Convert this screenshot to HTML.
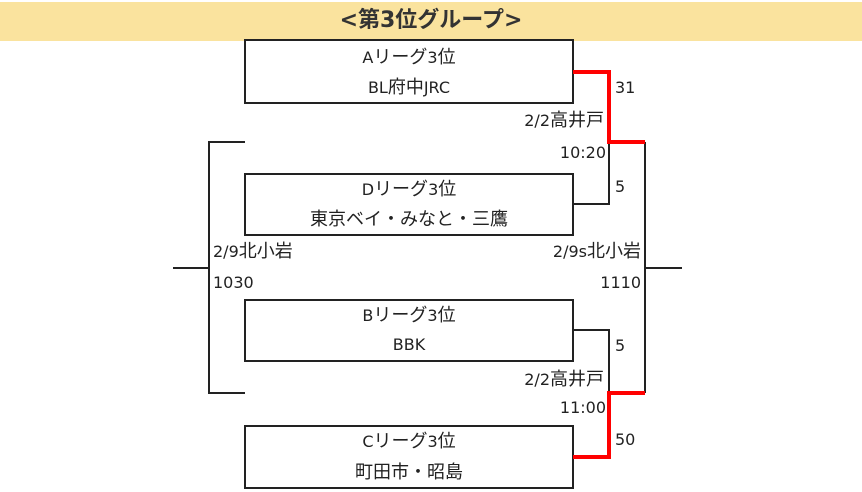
<!DOCTYPE html>
<html><head><meta charset="utf-8"><style>
body{margin:0;width:862px;height:492px;background:#fff;position:relative;overflow:hidden;font-family:"DejaVu Sans","Noto Sans CJK JP",sans-serif;color:#222}
.hd{position:absolute;left:0;top:2px;width:862px;height:39px;background:#fae39e;text-align:center;font-weight:bold;font-size:22px;line-height:37px;color:#333}
.t{position:absolute;font-size:16px;line-height:18px;white-space:nowrap}
.c{position:absolute;width:328px;text-align:center;font-size:16px;line-height:18px;left:245px;white-space:nowrap}
.j{font-size:18px;font-family:"Noto Sans CJK JP",sans-serif}
svg{position:absolute;left:0;top:0}
</style></head><body>
<div class="hd">&lt;第3位グループ&gt;</div>
<svg width="862" height="492">
<g fill="none" stroke="#222" stroke-width="2">
<rect x="245" y="40" width="328" height="63"/>
<rect x="245" y="174" width="328" height="61"/>
<rect x="245" y="300" width="328" height="61"/>
<rect x="245" y="426" width="328" height="62"/>
<polyline points="573,204 609,204 609,142"/>
<polyline points="573,330 609,330 609,393"/>
<polyline points="645,142 645,393"/>
<line x1="645" y1="268" x2="682" y2="268"/>
<polyline points="245,142 209,142 209,393 245,393"/>
<line x1="173" y1="268" x2="209" y2="268"/>
</g>
<g fill="none" stroke="#f00" stroke-width="4">
<polyline points="573,72 609,72 609,142 645,142"/>
<polyline points="573,457 609,457 609,393 645,393"/>
</g>
</svg>
<div class="c" style="top:47px">A<span class="j">リーグ</span>3<span class="j">位</span></div><div class="c" style="top:77px">BL<span class="j">府中</span>JRC</div>
<div class="c" style="top:179px">D<span class="j">リーグ</span>3<span class="j">位</span></div><div class="c" style="top:209px"><span class="j">東京ベイ・みなと・三鷹</span></div>
<div class="c" style="top:305px">B<span class="j">リーグ</span>3<span class="j">位</span></div><div class="c" style="top:336px">BBK</div>
<div class="c" style="top:431px">C<span class="j">リーグ</span>3<span class="j">位</span></div><div class="c" style="top:462px"><span class="j">町田市・昭島</span></div>
<div class="t" style="left:615px;top:79px">31</div>
<div class="t" style="right:258px;top:110px">2/2<span class="j">高井戸</span></div>
<div class="t" style="right:256px;top:144px">10:20</div>
<div class="t" style="left:615px;top:178px">5</div>
<div class="t" style="right:221px;top:241px">2/9s<span class="j">北小岩</span></div>
<div class="t" style="right:221px;top:274px">1110</div>
<div class="t" style="left:213px;top:241px">2/9<span class="j">北小岩</span></div>
<div class="t" style="left:213px;top:274px">1030</div>
<div class="t" style="left:615px;top:337px">5</div>
<div class="t" style="right:258px;top:369px">2/2<span class="j">高井戸</span></div>
<div class="t" style="right:256px;top:399px">11:00</div>
<div class="t" style="left:615px;top:431px">50</div>
</body></html>
